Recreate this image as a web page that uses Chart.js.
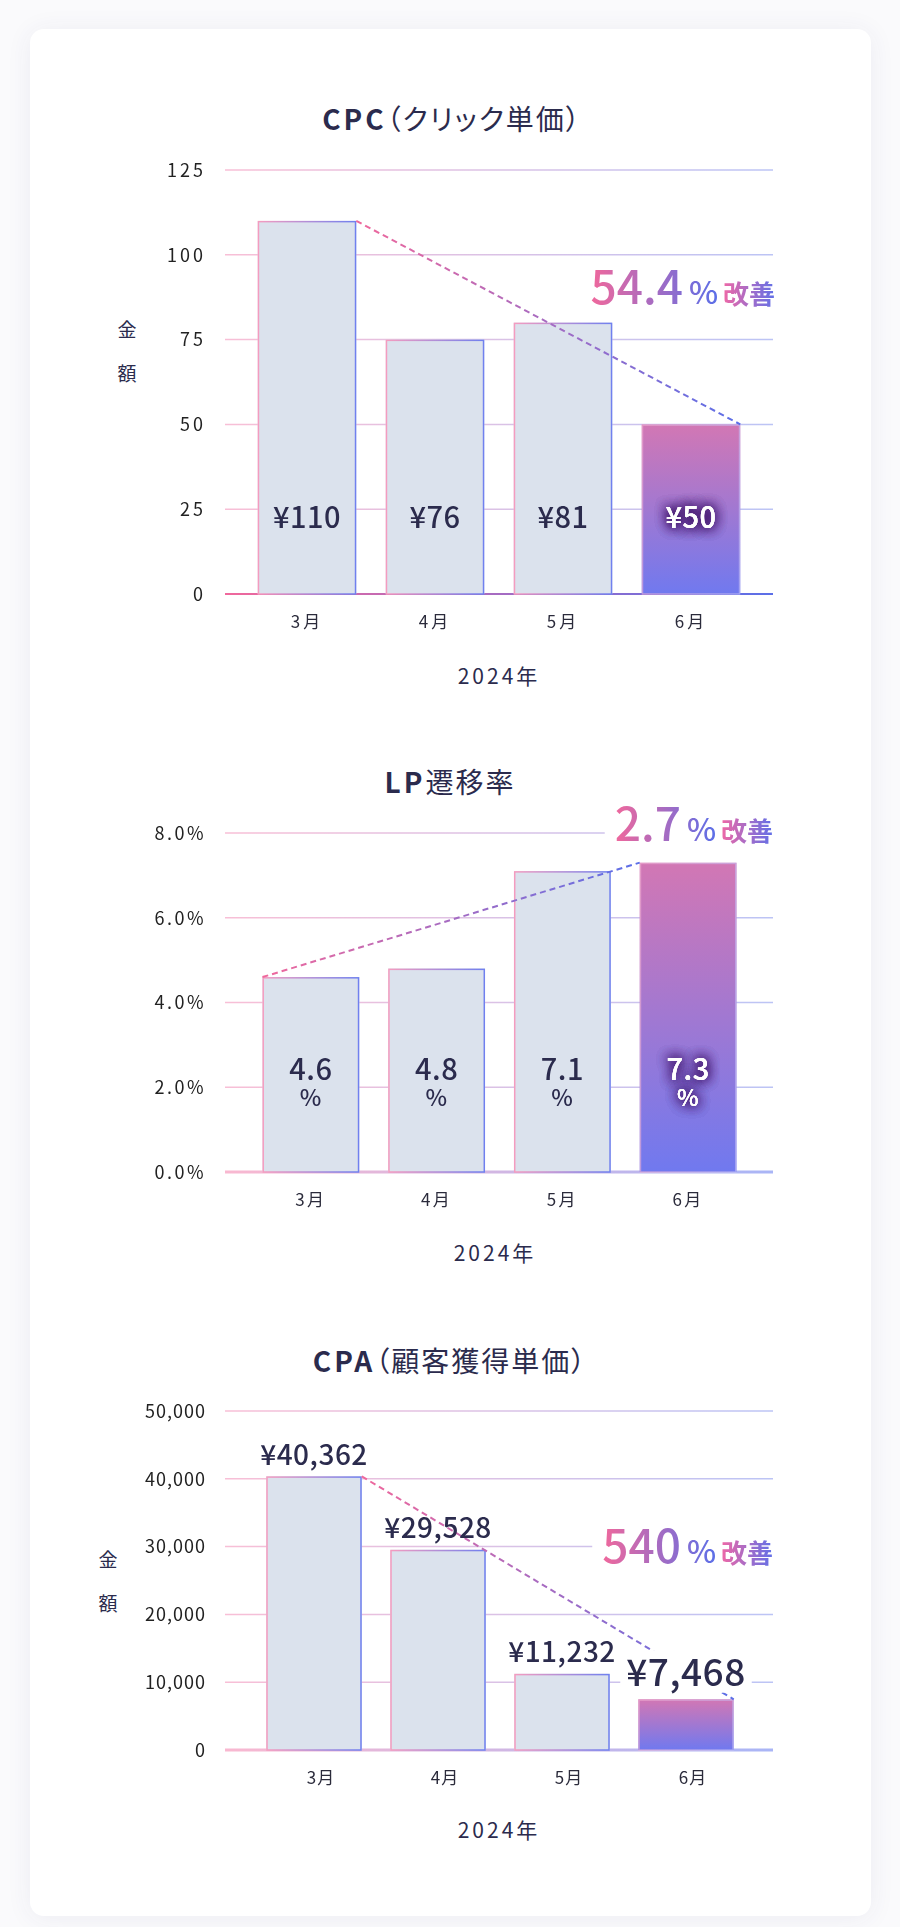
<!DOCTYPE html>
<html lang="ja">
<head>
<meta charset="utf-8">
<script src="https://cdn.jsdelivr.net/npm/chart.js@4.4.1/dist/chart.umd.min.js"></script>
<style>
body { margin: 0; background: #fafafc; font-family: "Noto Sans CJK JP", "Noto Sans", sans-serif; }
#page { position: relative; width: 900px; height: 1927px; overflow: hidden; }
.card { position: absolute; left: 30px; top: 29px; width: 841px; height: 1887px; background: #fff;
  border-radius: 14px; box-shadow: 0 2px 26px rgba(50, 50, 110, 0.07); }
canvas { position: absolute; left: 0; }
.t { position: absolute; transform: translate(-50%, -50%); white-space: nowrap; color: #2b2b4d;
  line-height: 1; font-feature-settings: "palt"; }
.title { font-size: 28px; letter-spacing: 2px; font-weight: 400; }
.title b { font-weight: 700; letter-spacing: 3px; }
.ytitle { font-size: 19px; }
.xtitle { font-size: 21px; letter-spacing: 3px; }
</style>
</head>
<body>
<div id="page">
  <div class="card"></div>

  <div class="t title" style="left:452px;top:118px"><b>CPC</b>（クリック単価）</div>
  <div class="t ytitle" style="left:127px;top:328px">金</div>
  <div class="t ytitle" style="left:127px;top:372px">額</div>
  <div class="t xtitle" style="left:499px;top:675px">2024年</div>

  <div class="t title" style="left:450px;top:781px"><b>LP</b>遷移率</div>
  <div class="t xtitle" style="left:495px;top:1252px">2024年</div>

  <div class="t title" style="left:450px;top:1360px"><b>CPA</b>（顧客獲得単価）</div>
  <div class="t ytitle" style="left:108px;top:1558px">金</div>
  <div class="t ytitle" style="left:108px;top:1602px">額</div>
  <div class="t xtitle" style="left:499px;top:1829px">2024年</div>

  <canvas id="cpc"></canvas>
  <canvas id="lp"></canvas>
  <canvas id="cpa"></canvas>
</div>

<script>
// data
const months = ['3月', '4月', '5月', '6月'];

const cpcValues = [110, 75, 80, 50];
const cpcTexts = ['¥110', '¥76', '¥81', '¥50'];
const cpcTicks = [0, 25, 50, 75, 100, 125];
const cpcGain = ['54.4', '%', '改善'];

const lpValues = [4.6, 4.8, 7.1, 7.3];
const lpTicks = [0, 2, 4, 6, 8];
const lpGain = ['2.7', '%', '改善'];

const cpaValues = [40362, 29528, 11232, 7468];
const cpaTicks = [0, 10000, 20000, 30000, 40000, 50000];
const cpaGain = ['540', '%', '改善'];

const FONT = '"Noto Sans CJK JP", "Noto Sans", sans-serif';
const PINK = '#f0689c';
const BLUE = '#5b6fe8';
const NAVY = '#2b2b4d';
const PAD = 60; // room above/below the plot inside each canvas

function hGrad(ctx, x0, x1, c0, c1) {
    const g = ctx.createLinearGradient(x0, 0, x1, 0);
    g.addColorStop(0, c0);
    g.addColorStop(1, c1);
    return g;
}

// grid lines, outlines, trend line, value labels, badge
const deco = {
    id: 'deco',
    beforeDraw(chart, args, o) {
        chart.ctx.letterSpacing = o.spacing;
    },
    beforeDatasetsDraw(chart, args, o) {
        const ctx = chart.ctx, y = chart.scales.y;
        ctx.save();
        y.ticks.forEach(t => {
            const py = y.getPixelForValue(t.value);
            const base = t.value === y.min;
            ctx.beginPath();
            ctx.lineWidth = base ? o.baseWidth : 1.5;
            ctx.strokeStyle = base
                ? hGrad(ctx, o.x0, o.x1, o.baseColors[0], o.baseColors[1])
                : hGrad(ctx, o.x0, o.x1, '#f8bfd6', '#bcc4f5');
            ctx.moveTo(o.x0, py);
            ctx.lineTo(o.x1, py);
            ctx.stroke();
        });
        ctx.restore();
    },
    afterDatasetsDraw(chart, args, o) {
        const ctx = chart.ctx;
        const bars = chart.getDatasetMeta(0).data;
        const last = bars.length - 1;
        ctx.save();
        ctx.letterSpacing = '0.5px';

        // bar outlines
        bars.forEach((b, i) => {
            const l = b.x - b.width / 2, r = b.x + b.width / 2;
            ctx.lineWidth = 1.5;
            ctx.strokeStyle = i === last
                ? hGrad(ctx, l, r, 'rgba(240,175,210,0.6)', 'rgba(195,190,245,0.6)')
                : hGrad(ctx, l, r, '#f59cbf', '#6f80ef');
            ctx.strokeRect(l + 0.75, b.y + 0.75, b.width - 1.5, b.base - b.y - 0.75);
        });

        // dashed trend line between first and last bar
        const a = bars[0], z = bars[last];
        const side = o.corner === 'left' ? -1 : 1;
        const xa = a.x + side * a.width / 2, xz = z.x + side * z.width / 2;
        ctx.setLineDash([6, 4]);
        ctx.lineWidth = 2;
        ctx.strokeStyle = hGrad(ctx, xa, xz, PINK, BLUE);
        ctx.beginPath();
        ctx.moveTo(xa, a.y);
        ctx.lineTo(xz, z.y);
        ctx.stroke();
        ctx.setLineDash([]);

        // value labels
        ctx.textAlign = 'center';
        ctx.textBaseline = 'middle';
        bars.forEach((b, i) => {
            const lines = o.texts(i);
            const hot = i === last && o.mode !== 'above';
            lines.forEach(ln => {
                const y = o.mode === 'above' ? b.y - ln.off : b.base - ln.off;
                ctx.font = '500 ' + ln.size + 'px ' + FONT;
                if (ln.box) {
                    const w = ctx.measureText(ln.text).width;
                    ctx.fillStyle = '#fff';
                    ctx.fillRect(b.x - w / 2 - 6, y - ln.size * 0.6, w + 12, ln.size * 1.15);
                }
                if (hot) {
                    ctx.fillStyle = '#fff';
                    ctx.shadowColor = 'rgba(65,20,105,0.9)';
                    ctx.shadowBlur = 12;
                    for (let k = 0; k < 4; k++) ctx.fillText(ln.text, b.x, y);
                    ctx.shadowBlur = 0;
                    ctx.shadowColor = 'transparent';
                } else {
                    ctx.fillStyle = NAVY;
                }
                ctx.fillText(ln.text, b.x, y);
            });
        });

        // improvement badge
        const g = o.badge;
        const baseline = g.baseline - o.top;
        const sizes = [46, 31, 26];
        const weights = [500, 500, 700];
        const gaps = [6, 5, 0];
        ctx.letterSpacing = '0px';
        ctx.textAlign = 'left';
        ctx.textBaseline = 'alphabetic';
        const widths = g.parts.map((p, k) => {
            ctx.font = weights[k] + ' ' + sizes[k] + 'px ' + FONT;
            return ctx.measureText(p).width;
        });
        const total = widths.reduce((s, w, k) => s + w + gaps[k], 0);
        let x = g.right - total;
        ctx.fillStyle = '#fff';
        ctx.fillRect(x - 10, baseline - 44, total + 14, 52);
        const numEnd = x + widths[0] + gaps[0] + widths[1];
        const g1 = hGrad(ctx, x, numEnd, PINK, BLUE);
        const g2 = hGrad(ctx, numEnd + gaps[1], g.right, '#ef68a6', '#6070e8');
        g.parts.forEach((p, k) => {
            ctx.font = weights[k] + ' ' + sizes[k] + 'px ' + FONT;
            ctx.fillStyle = k < 2 ? g1 : g2;
            ctx.fillText(p, x, baseline);
            x += widths[k] + gaps[k];
        });
        ctx.restore();
    }
};

function lastBarFill(context) {
    const chart = context.chart;
    const n = context.dataset.data.length;
    if (context.dataIndex !== n - 1) return '#dbe2ed';
    if (!chart.chartArea) return '#a878d0';
    const y = chart.scales.y;
    const top = y.getPixelForValue(context.raw);
    const bottom = y.getPixelForValue(y.min);
    const g = chart.ctx.createLinearGradient(0, top, 0, bottom);
    g.addColorStop(0, '#d277b4');
    g.addColorStop(1, '#7079ef');
    return g;
}

// area = plot box in page pixels; the canvas is placed around it
function makeChart(id, values, ticks, fmt, area, decoOpts, labelOffset) {
    const el = document.getElementById(id);
    const top = area.t - PAD;
    const height = area.b - top + 40 + 20;
    el.width = 900;
    el.height = height;
    el.style.top = top + 'px';
    decoOpts.top = top;
    return new Chart(el, {
        type: 'bar',
        data: {
            labels: months,
            datasets: [{
                data: values,
                backgroundColor: lastBarFill,
                borderWidth: 0,
                categoryPercentage: 1,
                barPercentage: 0.77
            }]
        },
        options: {
            responsive: false,
            animation: false,
            layout: { padding: { left: 0, right: 900 - area.r, top: PAD, bottom: 20 } },
            plugins: { legend: { display: false }, tooltip: { enabled: false }, deco: decoOpts },
            scales: {
                x: {
                    grid: { display: false, drawTicks: false },
                    border: { display: false },
                    ticks: { color: '#2b2b3b', font: { family: FONT, size: 17 }, padding: 17, labelOffset: labelOffset || 0 },
                    afterFit: s => { s.height = 40; }
                },
                y: {
                    min: ticks[0],
                    max: ticks[ticks.length - 1],
                    grid: { display: false, drawTicks: false },
                    border: { display: false },
                    ticks: { stepSize: ticks[1] - ticks[0], color: '#222', font: { family: FONT, size: 18 },
                        padding: area.l - 206, callback: fmt },
                    afterFit: s => { s.width = area.l; }
                }
            }
        },
        plugins: [deco]
    });
}

makeChart('cpc', cpcValues, cpcTicks, v => v,
    { l: 243, r: 755, t: 170, b: 594 },
    {
        x0: 225, x1: 773, spacing: '3px', baseWidth: 2, baseColors: ['#f0689c', '#5b6fe8'], corner: 'right', mode: 'inside',
        texts: i => [{ text: cpcTexts[i], size: 29, off: 77 }],
        badge: { parts: cpcGain, right: 775, baseline: 304 }
    });

makeChart('lp', lpValues, lpTicks, v => v.toFixed(1) + '%',
    { l: 248, r: 751, t: 833, b: 1172 },
    {
        x0: 225, x1: 773, spacing: '2.5px', baseWidth: 3, baseColors: ['#f9b8d0', '#a9b5f6'], corner: 'left', mode: 'split',
        texts: i => [{ text: lpValues[i].toFixed(1), size: 29, off: 103 }, { text: '%', size: 23, off: 75 }],
        badge: { parts: lpGain, right: 773, baseline: 841 }
    });

makeChart('cpa', cpaValues, cpaTicks, v => v.toLocaleString('en-US'),
    { l: 252, r: 748, t: 1411, b: 1750 },
    {
        x0: 225, x1: 773, spacing: '1px', baseWidth: 3, baseColors: ['#f9b8d0', '#a9b5f6'], corner: 'right', mode: 'above',
        texts: i => i === cpaValues.length - 1
            ? [{ text: '¥' + cpaValues[i].toLocaleString('en-US'), size: 37, off: 27, box: true }]
            : [{ text: '¥' + cpaValues[i].toLocaleString('en-US'), size: 28, off: 22 }],
        badge: { parts: cpaGain, right: 773, baseline: 1563 }
    }, 7);
</script>
</body>
</html>
